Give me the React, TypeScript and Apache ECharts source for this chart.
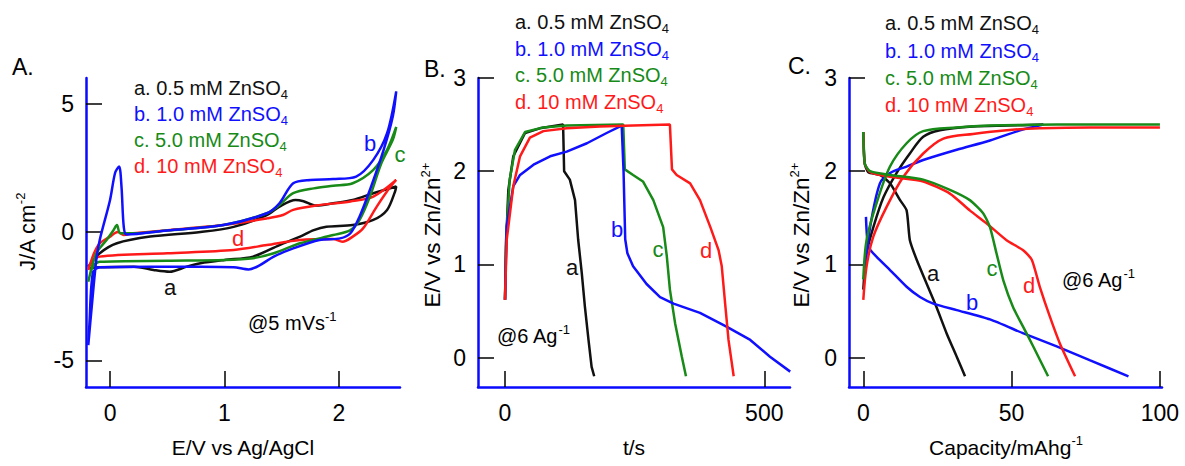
import React, { useEffect, useRef } from 'react';
import * as echarts from 'echarts';

// ---------- Panel A: cyclic voltammograms (E/V vs Ag/AgCl, J/A cm-2) ----------
const cvA_a = [
  [-0.19, -1.35], [-0.09, -0.83], [0.06, -0.44], [0.35, -0.18], [0.79, 0.0], [1.08, 0.2],
  [1.37, 0.66], [1.48, 0.99], [1.62, 1.25], [1.69, 1.2], [1.8, 1.03], [1.95, 1.12],
  [2.12, 1.25], [2.3, 1.51], [2.5, 1.77],
  [2.49, 1.58], [2.42, 0.86], [2.3, 0.47], [2.12, 0.27], [1.89, 0.2], [1.78, 0.07],
  [1.66, -0.18], [1.48, -0.51], [1.25, -0.96], [1.0, -1.09], [0.79, -1.22], [0.67, -1.35],
  [0.52, -1.55], [0.38, -1.48], [0.21, -1.35], [-0.09, -1.37], [-0.19, -1.41]
];
const cvA_b = [
  [-0.19, -4.41], [-0.16, -2.92], [-0.12, -1.09], [-0.09, -0.31], [0.0, 1.25], [0.044, 2.3],
  [0.079, 2.55], [0.1, 1.77], [0.12, 0.2], [0.145, -0.1], [0.5, 0.06], [0.99, 0.27],
  [1.37, 0.73], [1.48, 1.12], [1.6, 1.9], [1.75, 2.03], [1.95, 2.06], [2.15, 2.16],
  [2.3, 2.81], [2.42, 3.85], [2.5, 5.48],
  [2.47, 4.5], [2.39, 3.2], [2.27, 1.64], [2.18, 0.6], [2.1, -0.05], [2.01, -0.25],
  [1.83, -0.31], [1.6, -0.64], [1.43, -0.96], [1.31, -1.29], [1.21, -1.46], [1.08, -1.37],
  [0.79, -1.35], [0.35, -1.35], [-0.09, -1.37], [-0.15, -1.6], [-0.18, -3.58], [-0.19, -4.41]
];
const cvA_c = [
  [-0.19, -1.94], [-0.12, -0.83], [-0.03, -0.31], [0.03, 0.07], [0.06, 0.27], [0.09, -0.05],
  [0.2, -0.05], [0.5, 0.06], [0.99, 0.27], [1.37, 0.73], [1.48, 1.05], [1.6, 1.51],
  [1.78, 1.7], [1.95, 1.8], [2.12, 1.9], [2.3, 2.42], [2.42, 3.2], [2.5, 4.09],
  [2.47, 3.59], [2.37, 2.68], [2.27, 1.38], [2.18, 0.47], [2.1, 0.07], [1.95, -0.12],
  [1.66, -0.44], [1.43, -0.83], [1.25, -1.02], [1.0, -1.09], [0.5, -1.12], [-0.09, -1.16],
  [-0.15, -1.35], [-0.19, -1.94]
];
const cvA_d = [
  [-0.19, -1.48], [-0.14, -0.83], [-0.09, -0.44], [0.0, -0.18], [0.04, -0.05], [0.07, 0.0],
  [0.12, -0.12], [0.2, -0.05], [0.5, 0.07], [0.99, 0.27], [1.37, 0.53], [1.51, 0.66],
  [1.6, 0.86], [1.8, 1.03], [2.1, 1.19], [2.3, 1.38], [2.5, 2.03],
  [2.45, 1.77], [2.33, 0.99], [2.21, 0.14], [2.12, -0.18], [2.03, -0.38], [1.95, -0.27],
  [1.66, -0.31], [1.37, -0.51], [1.08, -0.7], [0.5, -0.83], [-0.09, -0.96], [-0.17, -1.22],
  [-0.19, -1.48]
];

// ---------- Panel B: charge/discharge vs time (t/s, E/V vs Zn/Zn2+) ----------
const gcdB_a = [
  [0, 0.62], [1.9, 1.19], [6.4, 1.8], [16, 2.16], [38.6, 2.41], [67, 2.46], [112, 2.5],
  [114, 2.0], [125, 1.91], [135, 1.69], [141, 1.27], [148, 0.91], [154, 0.55], [161, 0.19],
  [167, -0.1], [172, -0.2]
];
const gcdB_b = [
  [0, 0.62], [3.2, 1.41], [16, 1.84], [29, 1.96], [55, 2.07], [87, 2.16], [119, 2.21],
  [158, 2.3], [196, 2.41], [225, 2.49],
  [228.6, 2.0], [231.8, 1.27], [236, 1.12], [247, 0.98], [273, 0.79], [299, 0.65],
  [325, 0.58], [376, 0.48], [428, 0.33], [473, 0.19], [511, 0.01], [550, -0.15]
];
const gcdB_c = [
  [0, 0.62], [1.9, 1.26], [9, 1.91], [19.3, 2.23], [38.6, 2.42], [74, 2.47], [119, 2.49],
  [228, 2.5],
  [231, 2.02], [247, 1.96], [266, 1.89], [286, 1.69], [305, 1.4], [312, 1.09], [318, 0.73],
  [328, 0.37], [341, 0.01], [349, -0.2]
];
const gcdB_d = [
  [0, 0.62], [3.2, 1.26], [16, 1.84], [29, 2.16], [48, 2.36], [74, 2.43], [119, 2.46],
  [183, 2.48], [247, 2.49], [318, 2.5],
  [322, 2.02], [331, 1.96], [357, 1.87], [376, 1.69], [396, 1.4], [412, 1.15], [418, 0.98],
  [425, 0.55], [431, 0.19], [441, -0.2]
];

// ---------- Panel C: voltage vs capacity (Capacity/mAhg-1) ----------
const chgC_a = [
  [0, 0.73], [1.1, 1.12], [3.4, 1.4], [6.8, 1.72], [11.2, 1.98], [15.7, 2.19], [20.2, 2.37],
  [25.8, 2.44], [37, 2.48], [48.3, 2.49], [60.7, 2.5]
];
const disC_a = [
  [0, 2.42], [0.5, 2.08], [1.7, 1.99], [5.6, 1.96], [9, 1.87], [12.4, 1.69], [14.6, 1.58],
  [15.7, 1.26], [18, 1.05], [21.4, 0.79], [24.7, 0.54], [28.1, 0.26], [31.5, 0.01], [34.3, -0.2]
];
const chgC_b = [
  [0.2, 0.84], [2.3, 1.4], [5.6, 1.87], [9, 1.98], [14.6, 2.05], [20.2, 2.12], [31.5, 2.23],
  [42.7, 2.33], [54, 2.45], [60.7, 2.5]
];
const disC_b = [
  [0.9, 1.51], [1.7, 1.19], [4.5, 1.08], [9, 0.94], [14.6, 0.76], [19.1, 0.65], [23.6, 0.58],
  [31.5, 0.51], [42.7, 0.41], [54, 0.26], [65.2, 0.12], [76.5, -0.03], [89.4, -0.2]
];
const chgC_c = [
  [0, 0.84], [1.1, 1.26], [4.5, 1.66], [9, 2.05], [14.6, 2.3], [20.2, 2.43], [31.5, 2.47],
  [42.7, 2.49], [65.2, 2.5], [87.7, 2.5], [100, 2.5]
];
const disC_c = [
  [0, 2.42], [0.5, 2.08], [2.3, 2.0], [9, 1.96], [20.2, 1.91], [29.2, 1.8], [35.9, 1.69],
  [40.4, 1.55], [42.7, 1.4], [44.9, 1.12], [47.2, 0.83], [50.5, 0.54], [53.9, 0.33],
  [57.3, 0.12], [62.3, -0.2]
];
const chgC_d = [
  [0, 0.62], [1.1, 0.98], [3.4, 1.3], [7.9, 1.62], [13.5, 1.94], [20.2, 2.19], [27, 2.35],
  [37, 2.4], [48.3, 2.44], [59.5, 2.46], [76.5, 2.47], [100, 2.47]
];
const disC_d = [
  [0, 2.42], [0.5, 2.08], [2.3, 1.99], [9, 1.94], [20.2, 1.89], [29.2, 1.76], [35.9, 1.58],
  [41.6, 1.44], [48.3, 1.26], [54, 1.15], [56.8, 1.05], [59.5, 0.76], [62.9, 0.44],
  [66.3, 0.15], [71.4, -0.2]
];

// ---------- Tick values ----------
const ticksAx = [0, 1, 2];
const ticksAy = [-5, 0, 5];
const ticksBx = [0, 500];
const ticksBy = [0, 1, 2, 3];
const ticksCx = [0, 50, 100];
const ticksCy = [0, 1, 2, 3];

// ---------- Texts ----------
const legendLabels = ['a. 0.5 mM ZnSO', 'b. 1.0 mM ZnSO', 'c. 5.0 mM ZnSO', 'd. 10 mM ZnSO'];
const curveLetters = ['a', 'b', 'c', 'd'];

const FONT = "'Liberation Sans', Arial, Helvetica, sans-serif";
const COLORS = ['#111111', '#1010ff', '#178a17', '#ff1a1a'];
const AXIS_BLUE = '#0a0aff';

function App() {
  const ref = useRef<HTMLDivElement>(null);

  useEffect(() => {
    if (!ref.current) return;
    const chart = echarts.init(ref.current, null, { renderer: 'svg' });

    const mkX = (grid: number, min: number, max: number, ticks: number[]) => ({
      type: 'value', gridIndex: grid, min, max,
      axisLine: { show: true, onZero: false, lineStyle: { color: AXIS_BLUE, width: 2.5 } },
      axisTick: { show: true, inside: true, length: 16, customValues: ticks, lineStyle: { color: '#000', width: 1.5 } },
      axisLabel: { show: true, customValues: ticks, margin: 14, fontSize: 23, color: '#000', fontFamily: FONT },
      splitLine: { show: false }
    });
    const mkY = (grid: number, min: number, max: number, ticks: number[]) => ({
      type: 'value', gridIndex: grid, min, max,
      axisLine: { show: true, onZero: false, lineStyle: { color: AXIS_BLUE, width: 2.5 } },
      axisTick: { show: true, inside: true, length: 16, customValues: ticks, lineStyle: { color: '#000', width: 1.5 } },
      axisLabel: { show: true, customValues: ticks, margin: 12, fontSize: 23, color: '#000', fontFamily: FONT },
      splitLine: { show: false }
    });

    const line = (data: number[][], color: string, x: number, y: number, smooth: number | boolean) => ({
      type: 'line', xAxisIndex: x, yAxisIndex: y, data, showSymbol: false, symbol: 'none',
      smooth, lineStyle: { color, width: 2.5 }, clip: true, silent: true
    });

    const series = [
      line(cvA_a, COLORS[0], 0, 0, 0.3),
      line(cvA_d, COLORS[3], 0, 0, 0.3),
      line(cvA_c, COLORS[2], 0, 0, 0.3),
      line(cvA_b, COLORS[1], 0, 0, 0.3),
      line(gcdB_a, COLORS[0], 1, 1, false),
      line(gcdB_c, COLORS[2], 1, 1, false),
      line(gcdB_b, COLORS[1], 1, 1, false),
      line(gcdB_d, COLORS[3], 1, 1, false),
      line(chgC_a, COLORS[0], 2, 2, 0.3),
      line(disC_a, COLORS[0], 2, 2, 0.2),
      line(chgC_b, COLORS[1], 2, 2, 0.3),
      line(disC_b, COLORS[1], 2, 2, 0.2),
      line(chgC_d, COLORS[3], 2, 2, 0.3),
      line(disC_d, COLORS[3], 2, 2, 0.2),
      line(chgC_c, COLORS[2], 2, 2, 0.3),
      line(disC_c, COLORS[2], 2, 2, 0.2)
    ];

    const richColored = (color: string, size = 20) => ({
      m: { fontSize: size, fontFamily: FONT, lineHeight: 26, verticalAlign: 'middle', color },
      sub: { fontSize: 13, fontFamily: FONT, lineHeight: 13, verticalAlign: 'bottom', color },
      sup: { fontSize: 13, fontFamily: FONT, lineHeight: 13, verticalAlign: 'top', color }
    });

    const txt = (x: number, y: number, text: string, color: string, size: number, align = 'left', rotation = 0) => ({
      type: 'text', x, y, rotation, silent: true,
      style: {
        text, fill: color, align, verticalAlign: 'middle', fontSize: size, fontFamily: FONT,
        rich: richColored(color, size)
      }
    });

    const legendPos = [
      { x: 134, ys: [88, 114, 140, 166] },
      { x: 515, ys: [22, 49, 75, 102] },
      { x: 885, ys: [23, 51, 78, 105] }
    ];
    const graphics: any[] = [];
    legendPos.forEach((p) => {
      legendLabels.forEach((l, i) => {
        graphics.push(txt(p.x, p.ys[i], `{m|${l}}{sub|4}`, COLORS[i], 20));
      });
    });

    // panel labels
    graphics.push(txt(12, 67, 'A.', '#000', 23));
    graphics.push(txt(424, 69, 'B.', '#000', 23));
    graphics.push(txt(788, 66, 'C.', '#000', 23));

    // annotations
    graphics.push(txt(248, 323, '{m|@5 mVs}{sup|-1}', '#000', 20));
    graphics.push(txt(497, 336, '{m|@6 Ag}{sup|-1}', '#000', 20));
    graphics.push(txt(1062, 280, '{m|@6 Ag}{sup|-1}', '#000', 20));

    // curve letters
    const letterPos = [
      [[170, 287], [370, 143], [400, 154], [238, 238]],
      [[572, 267], [617, 229], [658, 249], [706, 250]],
      [[933, 273], [972, 302], [992, 268], [1029, 285]]
    ];
    letterPos.forEach((panel) => {
      panel.forEach((pt, i) => {
        graphics.push(txt(pt[0], pt[1], `{m|${curveLetters[i]}}`, COLORS[i], 22, 'center'));
      });
    });

    // axis names
    graphics.push(txt(243, 447, '{m|E/V vs Ag/AgCl}', '#000', 21, 'center'));
    graphics.push(txt(634, 447, '{m|t/s}', '#000', 21, 'center'));
    graphics.push(txt(1006, 447, '{m|Capacity/mAhg}{sup|-1}', '#000', 21, 'center'));
    graphics.push(txt(27, 232, '{m|J/A cm}{sup|-2}', '#000', 22, 'center', Math.PI / 2));
    graphics.push(txt(432, 235, '{m|E/V vs Zn/Zn}{sup|2+}', '#000', 22.5, 'center', Math.PI / 2));
    graphics.push(txt(801, 235, '{m|E/V vs Zn/Zn}{sup|2+}', '#000', 22.5, 'center', Math.PI / 2));

    chart.setOption({
      animation: false,
      backgroundColor: '#ffffff',
      grid: [
        { left: 86, top: 78, width: 314, height: 309 },
        { left: 478, top: 78, width: 312, height: 309 },
        { left: 849, top: 78, width: 313, height: 309 }
      ],
      xAxis: [
        mkX(0, -0.21, 2.533, ticksAx),
        mkX(1, -52.1, 549.6, ticksBx),
        mkX(2, -4.82, 100.7, ticksCx)
      ],
      yAxis: [
        mkY(0, -6.04, 6.0, ticksAy),
        mkY(1, -0.315, 3.0, ticksBy),
        mkY(2, -0.315, 3.0, ticksCy)
      ],
      series,
      graphic: graphics
    });

    return () => chart.dispose();
  }, []);

  return (
    <div
      ref={ref}
      style={{ position: 'absolute', left: 0, top: 0, width: 1185, height: 466, background: '#fff' }}
    />
  );
}

export default App;
